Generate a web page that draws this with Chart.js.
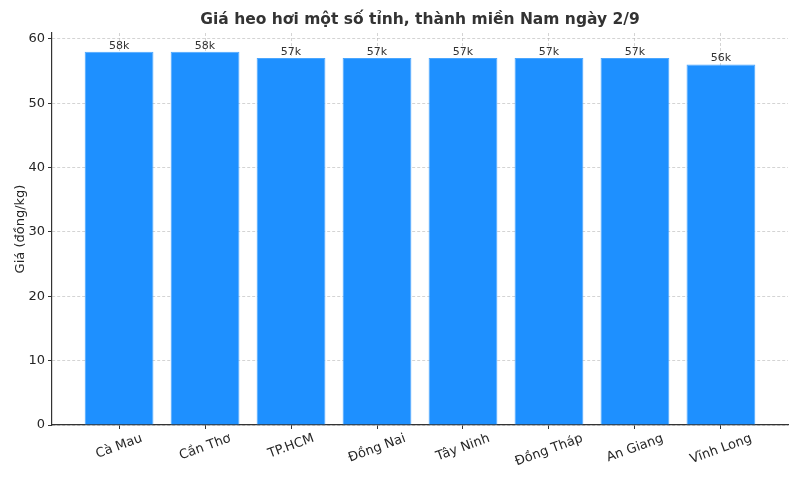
<!DOCTYPE html>
<html>
<head>
<meta charset="utf-8">
<script src="https://cdn.jsdelivr.net/npm/chart.js@4.4.1/dist/chart.umd.min.js"></script>
<style>
  html, body { margin: 0; padding: 0; background: #fff; }
  #wrap { width: 800px; height: 480px; }
</style>
</head>
<body>
<div id="wrap"><canvas id="bars"></canvas></div>
<script>
const chartTitle = "Giá heo hơi một số tỉnh, thành miền Nam ngày 2/9";
const provinces = ["Cà Mau", "Cần Thơ", "TP.HCM", "Đồng Nai", "Tây Ninh", "Đồng Tháp", "An Giang", "Vĩnh Long"];
const prices = [58, 58, 57, 57, 57, 57, 57, 56];
const valueLabels = ["58k", "58k", "57k", "57k", "57k", "57k", "57k", "56k"];
const yTicks = [0, 10, 20, 30, 40, 50, 60];

const FONT = "'DejaVu Sans', sans-serif";
const gridColor = "rgba(176,176,176,0.55)";

// title centred over the plot area, like matplotlib
const axesTitle = {
  id: "axesTitle",
  afterDraw(chart) {
    const ctx = chart.ctx;
    const area = chart.chartArea;
    ctx.save();
    ctx.font = "bold 15.5px " + FONT;
    ctx.fillStyle = "#333";
    ctx.textAlign = "center";
    ctx.textBaseline = "middle";
    ctx.fillText(chartTitle, (area.left + area.right) / 2, 20);
    ctx.restore();
  },
};

// value labels above bars
const barLabels = {
  id: "barLabels",
  afterDatasetsDraw(chart) {
    const ctx = chart.ctx;
    const meta = chart.getDatasetMeta(0);
    ctx.save();
    ctx.font = "11px " + FONT;
    ctx.fillStyle = "#333";
    ctx.textAlign = "center";
    ctx.textBaseline = "bottom";
    meta.data.forEach((bar, i) => {
      ctx.fillText(valueLabels[i], bar.x, bar.y - 0.5);
    });
    ctx.restore();
  },
};

// rotated x labels, centred on the tick
const xLabels = {
  id: "xLabels",
  afterDraw(chart) {
    const ctx = chart.ctx;
    const xs = chart.scales.x;
    const ang = (20 * Math.PI) / 180;
    ctx.save();
    ctx.font = "13px " + FONT;
    ctx.fillStyle = "#262626";
    ctx.textAlign = "center";
    ctx.textBaseline = "middle";
    provinces.forEach((name, i) => {
      const w = ctx.measureText(name).width;
      const h = 13;
      const half = (w * Math.sin(ang) + h * Math.cos(ang)) / 2;
      const x = xs.getPixelForValue(i);
      const y = xs.top + 7 + half;
      ctx.save();
      ctx.translate(x, y);
      ctx.rotate(-ang);
      ctx.fillText(name, 0, 0);
      ctx.restore();
    });
    ctx.restore();
  },
};

new Chart(document.getElementById("bars"), {
  type: "bar",
  data: {
    datasets: [
      {
        data: prices.map((v, i) => ({ x: i, y: v })),
        backgroundColor: "#1E90FF",
        borderColor: "#4aa6ff",
        borderWidth: 1,
        categoryPercentage: 1,
        barPercentage: 0.8,
      },
    ],
  },
  options: {
    responsive: true,
    maintainAspectRatio: false,
    animation: false,
    layout: { padding: { left: 0, right: 12, top: 33, bottom: 0 } },
    plugins: {
      legend: { display: false },
      tooltip: { enabled: false },
      title: { display: false },
    },
    scales: {
      x: {
        type: "linear",
        min: -0.78,
        max: 7.78,
        offset: false,
        z: 1,
        afterBuildTicks: (scale) => {
          scale.ticks = provinces.map((_, i) => ({ value: i }));
        },
        afterFit: (scale) => {
          scale.height = 55;
        },
        ticks: { display: false },
        grid: {
          offset: false,
          color: gridColor,
          tickColor: "#333",
          tickLength: 4,
          tickBorderDash: [],
        },
        border: { color: "#333", width: 1.2, dash: [3, 2] },
      },
      y: {
        min: 0,
        max: 60.9,
        z: 1,
        afterBuildTicks: (scale) => {
          scale.ticks = yTicks.map((v) => ({ value: v }));
        },
        afterFit: (scale) => {
          scale.width = 52;
        },
        ticks: {
          color: "#262626",
          font: { family: FONT, size: 13 },
          padding: 3,
        },
        grid: {
          color: gridColor,
          tickColor: "#333",
          tickLength: 4,
          tickBorderDash: [],
        },
        border: { color: "#333", width: 1.2, dash: [3, 2] },
        title: {
          display: true,
          text: "Giá (đồng/kg)",
          color: "#262626",
          font: { family: FONT, size: 13 },
          padding: { top: 13, bottom: 0 },
        },
      },
    },
  },
  plugins: [axesTitle, barLabels, xLabels],
});
</script>
</body>
</html>
